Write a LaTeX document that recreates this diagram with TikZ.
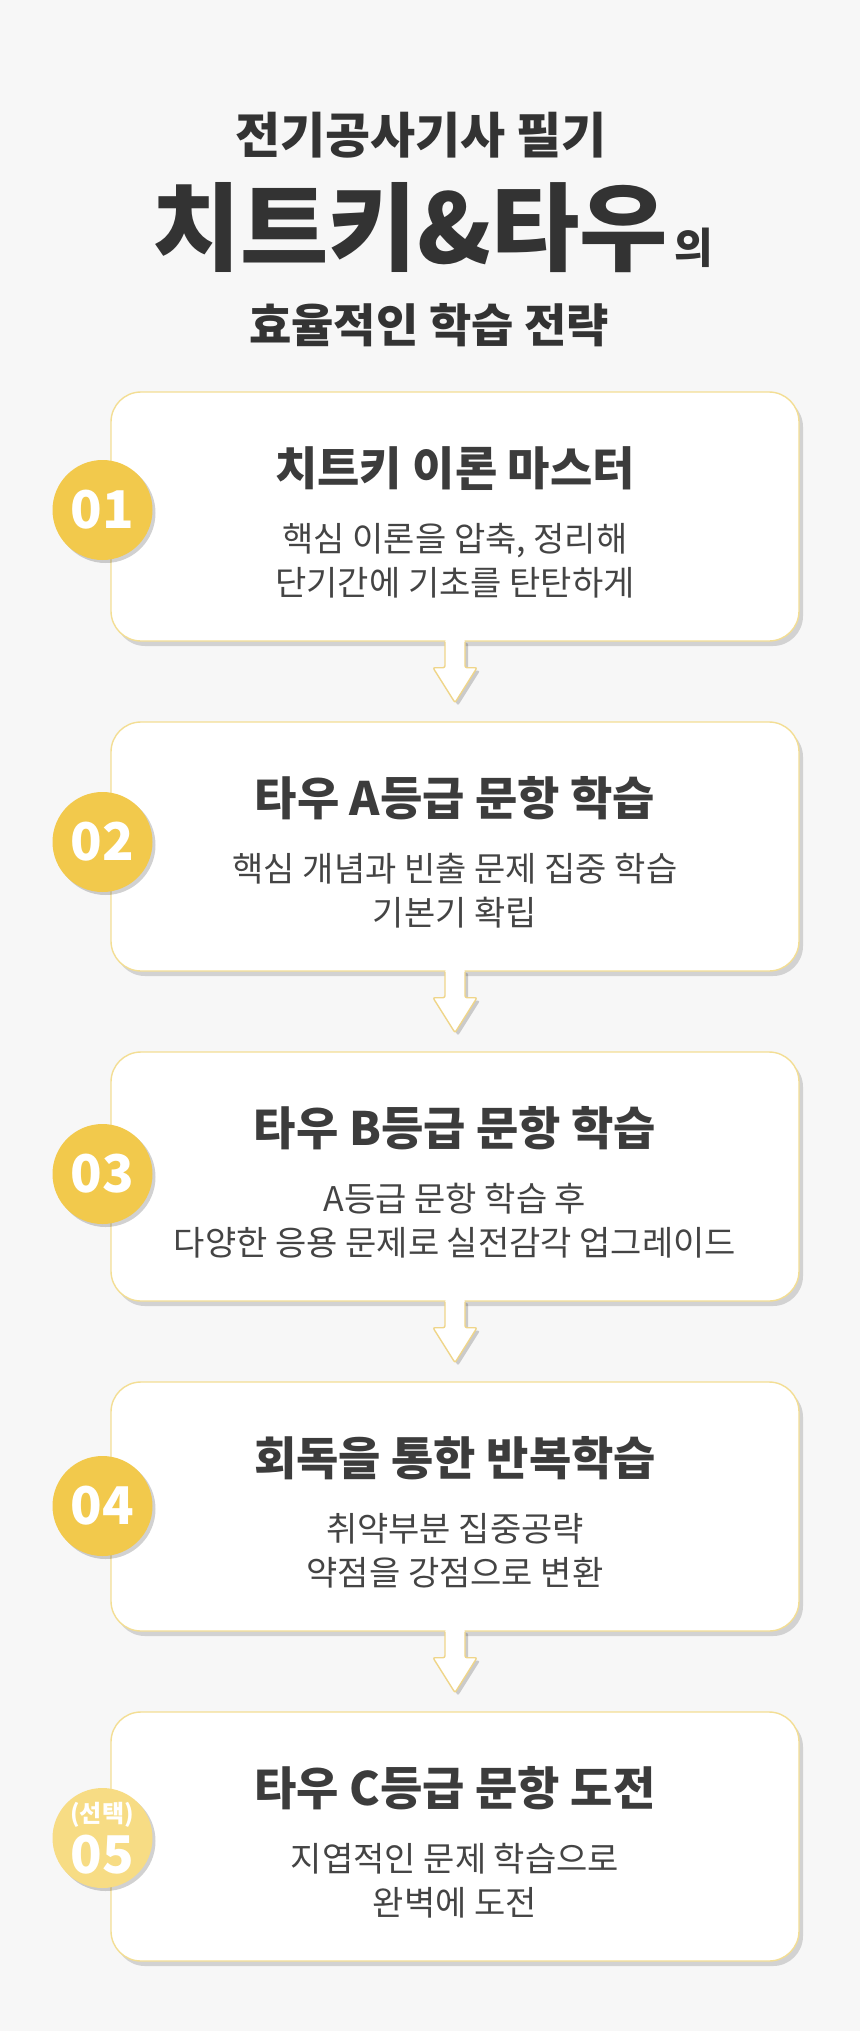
\documentclass[tikz,border=0pt]{standalone}
\usepackage{fontspec}
\setmainfont{Noto Sans CJK KR}
\newfontfamily\krblack{Noto Sans CJK KR Black}
\usepackage{tikz}
\usetikzlibrary{positioning}
\usetikzlibrary{calc}
\usetikzlibrary{shadows}
\pgfdeclarelayer{background}
\pgfsetlayers{background,main}

\definecolor{pagegray}{HTML}{F7F7F7}
\definecolor{titlegray}{HTML}{333333}
\definecolor{headgray}{HTML}{3C3C3C}
\definecolor{subgray}{HTML}{444444}
\definecolor{cardline}{HTML}{F3DE94}
\definecolor{arrowline}{HTML}{EFD589}
\definecolor{badgegold}{HTML}{F2C94C}
\definecolor{badgelight}{HTML}{F7DC84}

\begin{document}
\begin{tikzpicture}[x=1pt, y=-1pt,
						card/.style={rectangle, rounded corners=30pt, draw=cardline, line width=1.4pt, fill=white, minimum width=688pt, minimum height=249pt, drop shadow={shadow xshift=4pt, shadow yshift=-5pt, opacity=0.15, fill=black}},
						badge/.style={circle, minimum size=100pt, inner sep=0pt, fill=badgegold, text=white, font=\bfseries\fontsize{52}{60}\selectfont, drop shadow={shadow xshift=3pt, shadow yshift=-3pt, opacity=0.18, fill=black}},
						badgelite/.style={badge, fill=badgelight},
						titleline/.style={inner sep=0pt, text=titlegray, font=\bfseries\fontsize{49}{56}\selectfont},
						bigtitle/.style={inner sep=0pt, text=titlegray, font=\krblack\fontsize{96}{100}\selectfont},
						heading/.style={inner sep=0pt, text=headgray, font=\bfseries\fontsize{46}{52}\selectfont},
						subtext/.style={inner sep=0pt, text=subgray, align=center, font=\fontsize{34}{44}\selectfont},
						flowfill/.style={fill=white, rounded corners=2pt, drop shadow={shadow xshift=3pt, shadow yshift=-3pt, opacity=0.18, fill=black}},
						flowline/.style={draw=arrowline, line width=1.4pt, rounded corners=2pt},
						]
						\useasboundingbox (0,0) rectangle (860,2031);
						%Nodes
						\node[titleline]      (title1) 	at 	(421,135)       {전기공사기사 필기};
						\node[bigtitle]       (title2) 	at 	(410,228)       {치트키\&타우};
						\node[titleline, anchor=base west, font=\bfseries\fontsize{42}{50}\selectfont] (title2b) at ([xshift=6pt]title2.base east) {의};
						\node[titleline, font=\bfseries\fontsize{46}{52}\selectfont] (title3) at (429,325) {효율적인 학습 전략};

						\node[card]           (card1) 	at 	(455,516.5)     {};
						\node[card]           (card2) 	at 	(455,846.5)     {};
						\node[card]           (card3) 	at 	(455,1176.5)    {};
						\node[card]           (card4) 	at 	(455,1506.5)    {};
						\node[card]           (card5) 	at 	(455,1836.5)    {};

						\node[badge]          (num1) 	at 	(102.5,510)     {01};
						\node[badge]          (num2) 	at 	(102.5,842)     {02};
						\node[badge]          (num3) 	at 	(102.5,1174)    {03};
						\node[badge]          (num4) 	at 	(102.5,1506)    {04};
						\node[badgelite]      (num5) 	at 	(102.5,1838)    {};
						\node[inner sep=0pt, text=white, font=\bfseries\fontsize{24}{28}\selectfont] (num5top) at (102,1815) {(선택)};
						\node[inner sep=0pt, text=white, font=\bfseries\fontsize{52}{60}\selectfont] (num5low) at (102,1855) {05};

						\node[heading]        (head1) 	at 	($(card1.north)+(0,77)$)    {치트키 이론 마스터};
						\node[subtext]        (sub1) 	at 	($(card1.north)+(0,169)$)   {핵심 이론을 압축, 정리해\\단기간에 기초를 탄탄하게};
						\node[heading]        (head2) 	at 	($(card2.north)+(0,77)$)    {타우 A등급 문항 학습};
						\node[subtext]        (sub2) 	at 	($(card2.north)+(0,169)$)   {핵심 개념과 빈출 문제 집중 학습\\기본기 확립};
						\node[heading]        (head3) 	at 	($(card3.north)+(0,77)$)    {타우 B등급 문항 학습};
						\node[subtext]        (sub3) 	at 	($(card3.north)+(0,169)$)   {A등급 문항 학습 후\\다양한 응용 문제로 실전감각 업그레이드};
						\node[heading]        (head4) 	at 	($(card4.north)+(0,77)$)    {회독을 통한 반복학습};
						\node[subtext]        (sub4) 	at 	($(card4.north)+(0,169)$)   {취약부분 집중공략\\약점을 강점으로 변환};
						\node[heading]        (head5) 	at 	($(card5.north)+(0,77)$)    {타우 C등급 문항 도전};
						\node[subtext]        (sub5) 	at 	($(card5.north)+(0,169)$)   {지엽적인 문제 학습으로\\완벽에 도전};

						%Arrows
						\path[flowfill] ([xshift=-10pt,yshift=2pt]card1.south) -- ++(0,28) -- ++(-12,0) -- ++(22,35) -- ++(22,-35) -- ++(-12,0) -- ++(0,-28) -- cycle;
						\path[flowfill] ([xshift=-10pt,yshift=2pt]card2.south) -- ++(0,28) -- ++(-12,0) -- ++(22,35) -- ++(22,-35) -- ++(-12,0) -- ++(0,-28) -- cycle;
						\path[flowfill] ([xshift=-10pt,yshift=2pt]card3.south) -- ++(0,28) -- ++(-12,0) -- ++(22,35) -- ++(22,-35) -- ++(-12,0) -- ++(0,-28) -- cycle;
						\path[flowfill] ([xshift=-10pt,yshift=2pt]card4.south) -- ++(0,28) -- ++(-12,0) -- ++(22,35) -- ++(22,-35) -- ++(-12,0) -- ++(0,-28) -- cycle;

						\draw[flowline] ([xshift=-10pt]card1.south) -- ++(0,26) -- ++(-12,0) -- ++(22,35) -- ++(22,-35) -- ++(-12,0) -- ++(0,-26);
						\draw[flowline] ([xshift=-10pt]card2.south) -- ++(0,26) -- ++(-12,0) -- ++(22,35) -- ++(22,-35) -- ++(-12,0) -- ++(0,-26);
						\draw[flowline] ([xshift=-10pt]card3.south) -- ++(0,26) -- ++(-12,0) -- ++(22,35) -- ++(22,-35) -- ++(-12,0) -- ++(0,-26);
						\draw[flowline] ([xshift=-10pt]card4.south) -- ++(0,26) -- ++(-12,0) -- ++(22,35) -- ++(22,-35) -- ++(-12,0) -- ++(0,-26);

						\begin{pgfonlayer}{background}
						\fill[pagegray] (0,0) rectangle (860,2031);
						\end{pgfonlayer}
					\end{tikzpicture}
\end{document}
